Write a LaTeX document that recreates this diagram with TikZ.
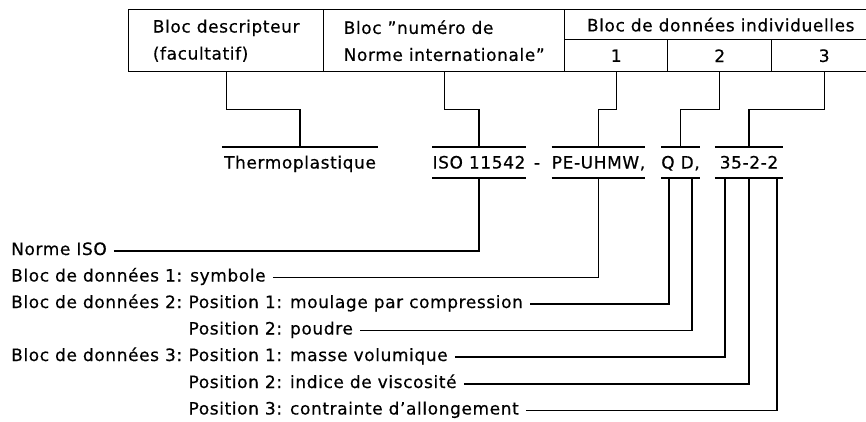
\documentclass[tikz,border=0pt]{standalone}
\usepackage{fontspec}
\setmainfont{DejaVu Sans}[LetterSpace=3.5,FakeBold=0.5]
\usetikzlibrary{positioning}

\begin{document}
\begin{tikzpicture}[x=1pt,y=-1pt,
  every node/.style={font=\fontsize{17}{27}\selectfont},
  cell/.style={draw,line width=1.4pt,inner sep=0pt,anchor=north west},
  code/.style={inner sep=0pt,minimum height=31pt,text height=12pt,text depth=0pt},
  lab/.style={inner sep=0pt,anchor=west,text height=12pt,text depth=4pt},
  rule/.style={line width=1.6pt},
  wire/.style={line width=1.2pt}]

  \useasboundingbox (0,0) rectangle (866,421);

  % table of blocs
  \node[cell,minimum width=195pt,minimum height=62pt,align=left] (desc) at (128,9)
    {Bloc descripteur\\(facultatif)};
  \node[cell,minimum width=241pt,minimum height=62pt,align=left] (norm) at (323,9)
    {Bloc ”numéro de\\Norme internationale”};
  \node[cell,minimum width=312pt,minimum height=30pt] (data) at (564,9)
    {Bloc de données individuelles};
  \node[cell,minimum width=103pt,minimum height=32pt] (d1) at (564,39) {1};
  \node[cell,minimum width=104pt,minimum height=32pt] (d2) at (667,39) {2};
  \node[cell,minimum width=105pt,minimum height=32pt] (d3) at (771,39) {3};

  % designation
  \node[code,minimum width=156pt] (thermo) at (300,162.5) {Thermoplastique};
  \node[code,minimum width=88pt] (iso) at (479,162.5) {ISO 11542};
  \node[code] (tiret) at (537,162.5) {-};
  \node[code,minimum width=93pt] (pe) at (598.5,162.5) {PE-UHMW,};
  \node[code,minimum width=35pt] (qd) at (680.5,162.5) {Q D,};
  \node[code,minimum width=68pt] (num) at (749,162.5) {35-2-2};
  \draw[rule] (thermo.north west) -- (thermo.north east);
  \foreach \n in {iso,pe,qd,num}
    \draw[rule] (\n.north west) -- (\n.north east)
                (\n.south west) -- (\n.south east);
  \coordinate (qd-q) at ([xshift=-11.5pt]qd.south);
  \coordinate (qd-d) at ([xshift=11.5pt]qd.south);
  \coordinate (num-a) at ([xshift=-24pt]num.south);
  \coordinate (num-b) at (num.south);
  \coordinate (num-c) at ([xshift=28pt]num.south);

  % blocs to designation
  \draw[wire] (desc.south) -- ++(0,37) -| (thermo.north);
  \draw[wire] (norm.south) -- ++(0,37) -| (iso.north);
  \draw[wire] (d1.south) -- ++(0,37) -| (pe.north);
  \draw[wire] (d2.south) -- ++(0,37) -| (qd.north);
  \draw[wire] (d3.south) -- ++(0,37) -| (num.north);

  % legend
  \node[lab] (normiso) at (11,251) {Norme ISO};
  \node[lab] (sym) at (11,277.5) {Bloc de données 1: symbole};
  \node[lab] (bloc2) at (11,304) {Bloc de données 2:};
  \node[lab,right=6pt of bloc2] (pos21) {Position 1: moulage par compression};
  \node[lab] (pos22) at (pos21.west |- 0,330.5) {Position 2: poudre};
  \node[lab] (bloc3) at (11,357) {Bloc de données 3:};
  \node[lab,right=6pt of bloc3] (pos31) {Position 1: masse volumique};
  \node[lab] (pos32) at (pos31.west |- 0,384) {Position 2: indice de viscosité};
  \node[lab] (pos33) at (pos31.west |- 0,410.5) {Position 3: contrainte d’allongement};

  \draw[wire] ([xshift=7pt]normiso.east) -| (iso.south);
  \draw[wire] ([xshift=7pt]sym.east) -| (pe.south);
  \draw[wire] ([xshift=7pt]pos21.east) -| (qd-q);
  \draw[wire] ([xshift=7pt]pos22.east) -| (qd-d);
  \draw[wire] ([xshift=7pt]pos31.east) -| (num-a);
  \draw[wire] ([xshift=7pt]pos32.east) -| (num-b);
  \draw[wire] ([xshift=7pt]pos33.east) -| (num-c);
\end{tikzpicture}
\end{document}
